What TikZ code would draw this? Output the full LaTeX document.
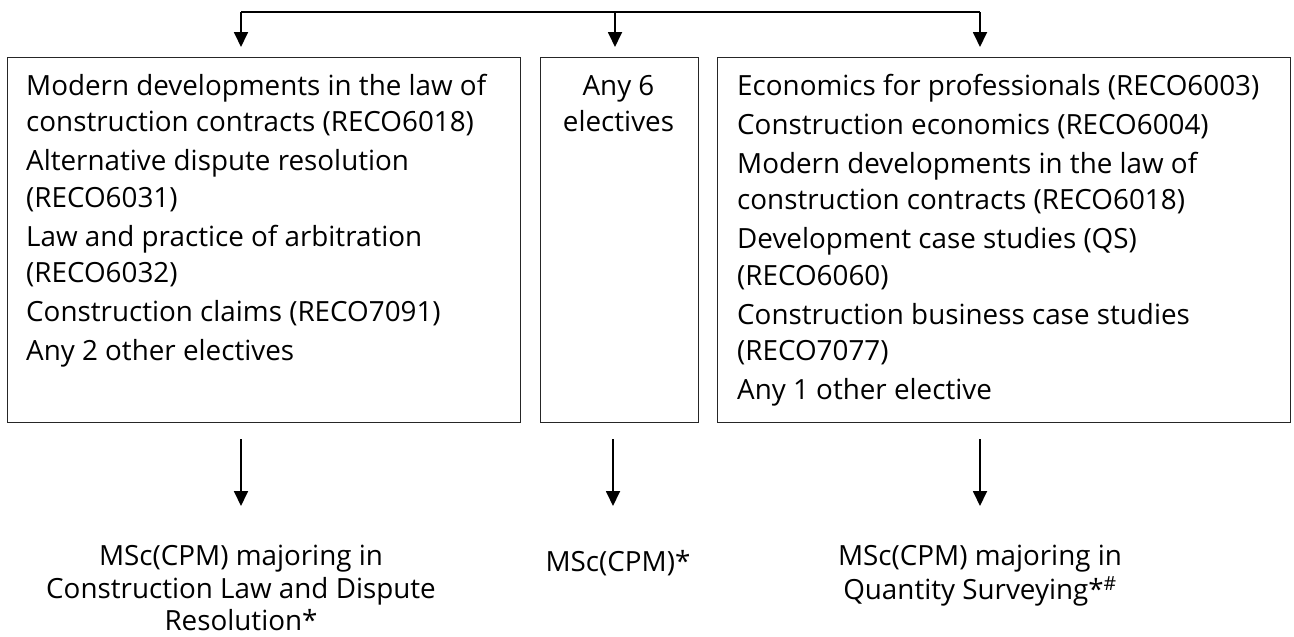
\documentclass[tikz,border=0pt]{standalone}
\usepackage{fontspec}
\setmainfont{Open Sans}
\usetikzlibrary{arrows.meta}
\begin{document}
\begin{tikzpicture}[x=1pt,y=-1pt,
  boxshape/.style={draw=black!85,line width=1.3pt,rectangle,inner sep=0pt,anchor=north west},
  boxtext/.style={inner sep=0pt,anchor=north west,align=left,font=\fontsize{27.8}{36.5}\selectfont},
  ctrtext/.style={inner sep=0pt,anchor=north,align=center,font=\fontsize{27.8}{32.5}\selectfont},
  arr/.style={line width=1.8pt,-{Triangle[length=15pt,width=14pt]}},
  conn/.style={line width=1.8pt}]
\useasboundingbox (0,0) rectangle (1294,637);
% boxes
\node[boxshape,minimum width=513pt,minimum height=365pt] (lbox) at (7,57) {};
\node[boxshape,minimum width=158pt,minimum height=365pt] (mbox) at (540,57) {};
\node[boxshape,minimum width=573pt,minimum height=365pt] (rbox) at (717,57) {};
% box texts
\node[boxtext] (ltext) at (26,69.5) {\strut Modern developments in the law of\\
construction contracts (RECO6018)\\[2.5pt]
Alternative dispute resolution\\
(RECO6031)\\[2.5pt]
Law and practice of arbitration\\
(RECO6032)\\[2.5pt]
Construction claims (RECO7091)\\[2.5pt]
Any 2 other electives};
\node[boxtext,anchor=north,align=center] (mtext) at (618.5,69.5) {\strut Any 6\\electives};
\node[boxtext] (rtext) at (737,69.5) {\strut Economics for professionals (RECO6003)\\[2.5pt]
Construction economics (RECO6004)\\[2.5pt]
Modern developments in the law of\\
construction contracts (RECO6018)\\[2.5pt]
Development case studies (QS)\\
(RECO6060)\\[2.5pt]
Construction business case studies\\
(RECO7077)\\[2.5pt]
Any 1 other elective};
% result labels
\node[ctrtext] (lres) at (241,543) {\strut MSc(CPM) majoring in\\Construction Law and Dispute\\Resolution*};
\node[ctrtext] (mres) at (618,548.5) {\strut MSc(CPM)*};
\node[ctrtext] (rres) at (980,543) {\strut MSc(CPM) majoring in\\Quantity Surveying*\textsuperscript{\#}};
% top distributor
\coordinate (t1) at (241,12);
\coordinate (t2) at (615,12);
\coordinate (t3) at (980,12);
\draw[conn] (t1) -- (t3);
\draw[arr,shorten >=10pt] (t1) -- (t1 |- lbox.north);
\draw[arr,shorten >=10pt] (t2) -- (t2 |- mbox.north);
\draw[arr,shorten >=10pt] (t3) -- (t3 |- rbox.north);
% bottom arrows
\coordinate (b1) at (241,439);
\coordinate (b2) at (613,439);
\coordinate (b3) at (980,439);
\draw[arr] (b1) -- (b1 |- 0,506);
\draw[arr] (b2) -- (b2 |- 0,506);
\draw[arr] (b3) -- (b3 |- 0,506);
\end{tikzpicture}
\end{document}
